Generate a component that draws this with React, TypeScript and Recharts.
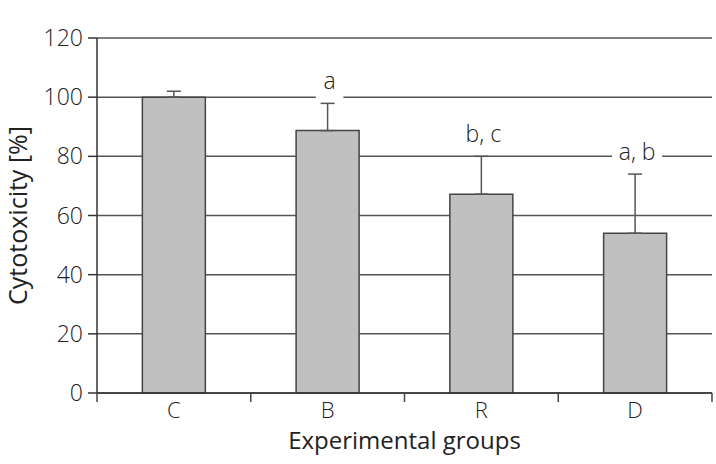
import { BarChart, Bar, XAxis, YAxis, CartesianGrid, ErrorBar, LabelList, Label } from "recharts";

const GROUPS = ["C", "B", "R", "D"];
const CYTOTOXICITY = [100, 88.7, 67.2, 54];
const ERRORS = [2, 9.2, 12.8, 20];
const SIGNIFICANCE = ["", "a", "b, c", "a, b"];
const Y_TICKS = [0, 20, 40, 60, 80, 100, 120];

const FONT = "'Open Sans', 'DejaVu Sans', sans-serif";

const data = GROUPS.map((group, i) => ({
  group,
  value: CYTOTOXICITY[i],
  err: [0, ERRORS[i]],
  sig: SIGNIFICANCE[i],
}));

function SigLabel(props: any) {
  const { x, y, width, height, value, index } = props;
  if (!value) return null;
  const perUnit = height / CYTOTOXICITY[index];
  const errTop = y - ERRORS[index] * perUnit;
  const cx = x + width / 2 + 2;
  const base = errTop - 14;
  const w = String(value).length * 7.5 + 20;
  return (
    <g>
      <rect x={cx - w / 2} y={base - 20} width={w} height={30} fill="#fff" />
      <text x={cx} y={base} textAnchor="middle" fontFamily={FONT} fontSize={23} fontWeight={300} fill="#222">
        {value}
      </text>
    </g>
  );
}

// category label in the middle, tick marks on the band edges
function GroupTick(props: any) {
  const { x, y, payload, index, visibleTicksCount } = props;
  const half = payload.offset ?? 0;
  const axisY = y - 9;
  return (
    <g>
      <line x1={x - half} x2={x - half} y1={axisY} y2={axisY + 9} stroke="#444" strokeWidth={1.5} />
      {index === visibleTicksCount - 1 && (
        <line x1={x + half} x2={x + half} y1={axisY} y2={axisY + 9} stroke="#444" strokeWidth={1.5} />
      )}
      <text x={x} y={y} dy="0.71em" textAnchor="middle" fontFamily={FONT} fontSize={22} fontWeight={300} fill="#222">
        {payload.value}
      </text>
    </g>
  );
}

function YTitle(props: any) {
  const { viewBox } = props;
  const cy = viewBox.y + viewBox.height / 2;
  return (
    <text
      x={0}
      y={0}
      transform={`translate(27, ${cy}) rotate(-90)`}
      textAnchor="middle"
      fontFamily={FONT}
      fontSize={25}
      fill="#222"
    >
      Cytotoxicity [%]
    </text>
  );
}

export default function App() {
  const tickStyle = { fontFamily: FONT, fontSize: 23, fontWeight: 300, fill: "#222" };
  return (
    <div style={{ position: "absolute", left: 0, top: 0, background: "#fff" }}>
      <BarChart
        width={716}
        height={464}
        data={data}
        margin={{ top: 38, right: 4, left: 0, bottom: 0 }}
        barCategoryGap="29.5%"
      >
        <CartesianGrid vertical={false} stroke="#555" strokeWidth={1.5} />
        <XAxis
          dataKey="group"
          height={71}
          tickLine={false}
          axisLine={{ stroke: "#333", strokeWidth: 1.5 }}
          tickSize={9}
          tickMargin={0}
          tick={<GroupTick />}
        >
          <Label
            value="Experimental groups"
            position="insideBottom"
            offset={15}
            style={{ fontFamily: FONT, fontSize: 24, fill: "#222" }}
          />
        </XAxis>
        <YAxis
          width={97}
          domain={[0, 120]}
          ticks={Y_TICKS}
          tickSize={9}
          tickMargin={5}
          tickLine={{ stroke: "#333", strokeWidth: 1.5 }}
          axisLine={{ stroke: "#333", strokeWidth: 1.5 }}
          tick={tickStyle}
        >
          <Label content={<YTitle />} />
        </YAxis>
        <YAxis
          yAxisId="right"
          orientation="right"
          width={0}
          domain={[0, 120]}
          ticks={Y_TICKS}
          tick={false}
          tickLine={false}
          axisLine={{ stroke: "#444", strokeWidth: 1.5 }}
        />
        <Bar dataKey="value" fill="#c0c0c0" stroke="#444" strokeWidth={1.5} isAnimationActive={false}>
          <ErrorBar dataKey="err" width={7} stroke="#555" strokeWidth={1.5} direction="y" />
          <LabelList dataKey="sig" content={<SigLabel />} />
        </Bar>
      </BarChart>
    </div>
  );
}
